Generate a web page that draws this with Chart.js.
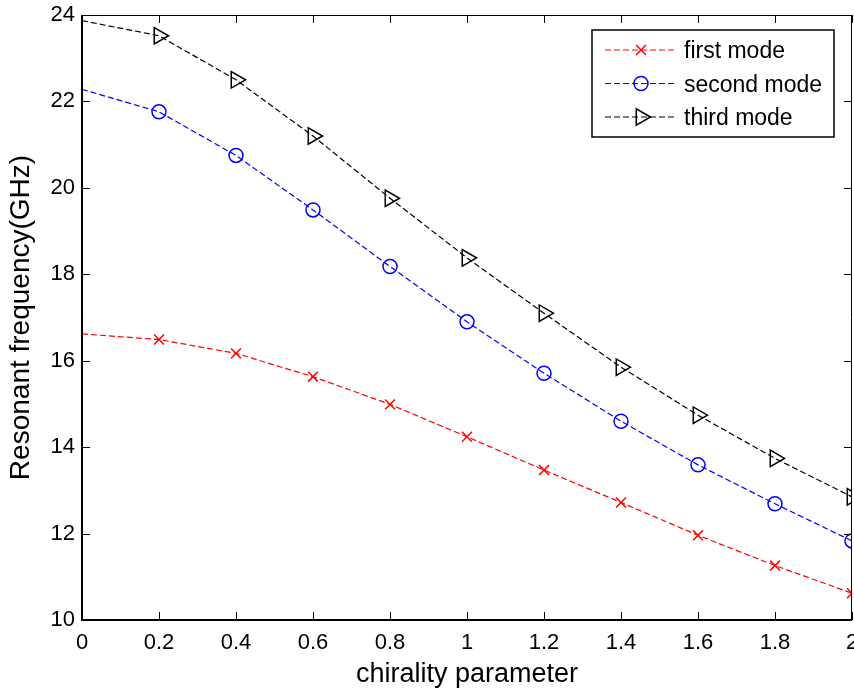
<!DOCTYPE html>
<html lang="en">
<head>
<meta charset="UTF-8">
<title>Resonant frequency vs chirality parameter</title>
<script src="https://cdn.jsdelivr.net/npm/chart.js@4.4.1/dist/chart.umd.min.js"></script>
<style>
  html, body { margin: 0; padding: 0; background: #fff; overflow: hidden; }
  #wrap { width: 854px; height: 693px; }
</style>
</head>
<body>
<div id="wrap"><canvas id="freqChart"></canvas></div>
<script>
// values
const chirality  = [0, 0.2, 0.4, 0.6, 0.8, 1.0, 1.2, 1.4, 1.6, 1.8, 2.0];
const firstMode  = [16.62, 16.49, 16.17, 15.63, 14.99, 14.24, 13.47, 12.72, 11.96, 11.26, 10.62];
const secondMode = [22.28, 21.76, 20.75, 19.49, 18.18, 16.90, 15.71, 14.60, 13.59, 12.69, 11.83];
const thirdMode  = [23.87, 23.52, 22.50, 21.20, 19.76, 18.38, 17.10, 15.85, 14.74, 13.74, 12.85];

const xTicks = [0, 0.2, 0.4, 0.6, 0.8, 1, 1.2, 1.4, 1.6, 1.8, 2];
const yTicks = [10, 12, 14, 16, 18, 20, 22, 24];

const FONT = '"Liberation Sans", Arial, Helvetica, sans-serif';

function toPoints(ys) {
    return chirality.map((x, i) => ({ x: x, y: ys[i] }));
}

function series(label, ys, color, marker, radius) {
    return {
        label: label,
        data: toPoints(ys),
        borderColor: color,
        backgroundColor: 'rgba(0,0,0,0)',
        borderWidth: 1.2,
        borderDash: [6, 3],
        tension: 0,
        clip: 0,
        marker: marker,
        markerRadius: radius,
        pointStyle: marker === 'x' ? 'crossRot' : marker,
        pointRotation: marker === 'triangle' ? 90 : 0,
        // no marker drawn at chirality = 0
        pointRadius: ctx => ctx.dataIndex === 0 ? 0 : radius,
        pointHoverRadius: ctx => ctx.dataIndex === 0 ? 0 : radius,
        pointBorderColor: color,
        pointBackgroundColor: 'rgba(0,0,0,0)',
        pointBorderWidth: 1.5
    };
}

// small marker drawer for the legend
function drawMarker(ctx, marker, r, x, y) {
    ctx.beginPath();
    if (marker === 'x') {
        const d = r * Math.SQRT1_2;
        ctx.moveTo(x - d, y - d); ctx.lineTo(x + d, y + d);
        ctx.moveTo(x - d, y + d); ctx.lineTo(x + d, y - d);
    } else if (marker === 'circle') {
        ctx.arc(x, y, r, 0, Math.PI * 2);
    } else {
        // triangle pointing right
        ctx.moveTo(x + r, y);
        ctx.lineTo(x - r / 2, y - r * Math.sqrt(3) / 2);
        ctx.lineTo(x - r / 2, y + r * Math.sqrt(3) / 2);
        ctx.closePath();
    }
    ctx.stroke();
}

// MATLAB style box with inward ticks on all four sides
const axesBox = {
    id: 'axesBox',
    afterDatasetsDraw(chart) {
        const { ctx, chartArea: a, scales } = chart;
        ctx.save();
        ctx.strokeStyle = '#000';
        ctx.setLineDash([]);
        ctx.lineWidth = 1;
        xTicks.forEach(v => {
            const px = Math.round(scales.x.getPixelForValue(v)) + 0.5;
            ctx.beginPath();
            ctx.moveTo(px, a.bottom); ctx.lineTo(px, a.bottom - 8);
            ctx.moveTo(px, a.top); ctx.lineTo(px, a.top + 8);
            ctx.stroke();
        });
        yTicks.forEach(v => {
            const py = Math.round(scales.y.getPixelForValue(v)) + 0.5;
            ctx.beginPath();
            ctx.moveTo(a.left, py); ctx.lineTo(a.left + 8, py);
            ctx.moveTo(a.right, py); ctx.lineTo(a.right - 8, py);
            ctx.stroke();
        });
        // top and right edges
        ctx.beginPath();
        ctx.moveTo(a.left, a.top + 0.5); ctx.lineTo(a.right, a.top + 0.5);
        ctx.moveTo(a.right - 0.5, a.top); ctx.lineTo(a.right - 0.5, a.bottom);
        ctx.stroke();
        // left and bottom edges, a bit heavier
        ctx.lineWidth = 2;
        ctx.beginPath();
        ctx.moveTo(a.left, a.top); ctx.lineTo(a.left, a.bottom);
        ctx.lineTo(a.right, a.bottom);
        ctx.stroke();
        ctx.restore();
    }
};

// legend box in the top-right corner
const boxLegend = {
    id: 'boxLegend',
    afterDraw(chart) {
        const ctx = chart.ctx;
        const L = 592, T = 30, W = 242, H = 107;
        ctx.save();
        ctx.fillStyle = '#fff';
        ctx.fillRect(L, T, W, H);
        ctx.strokeStyle = '#000';
        ctx.lineWidth = 1.5;
        ctx.strokeRect(L, T, W, H);
        chart.data.datasets.forEach((ds, i) => {
            const y = 50 + i * 33.5;
            ctx.strokeStyle = ds.borderColor;
            ctx.lineWidth = ds.borderWidth;
            ctx.setLineDash(ds.borderDash);
            ctx.beginPath();
            ctx.moveTo(605, y); ctx.lineTo(677, y);
            ctx.stroke();
            ctx.setLineDash([]);
            ctx.lineWidth = ds.pointBorderWidth;
            drawMarker(ctx, ds.marker, ds.markerRadius, 641, y);
            ctx.fillStyle = '#000';
            ctx.font = '23px ' + FONT;
            ctx.textBaseline = 'middle';
            ctx.textAlign = 'left';
            ctx.fillText(ds.label, 684, y + 2);
        });
        ctx.restore();
    }
};

const chartCtx = document.getElementById('freqChart').getContext('2d');
const freqChart = new Chart(chartCtx, {
    type: 'line',
    data: {
        datasets: [
            series('first mode', firstMode, '#ff0000', 'x', 7),
            series('second mode', secondMode, '#0000ff', 'circle', 7),
            series('third mode', thirdMode, '#000000', 'triangle', 9.5)
        ]
    },
    options: {
        responsive: true,
        maintainAspectRatio: false,
        animation: false,
        events: [],
        layout: { autoPadding: false, padding: { top: 15, right: 2, left: 0, bottom: 0 } },
        plugins: {
            legend: { display: false },
            tooltip: { enabled: false }
        },
        scales: {
            x: {
                type: 'linear',
                min: 0,
                max: 2,
                afterBuildTicks: s => { s.ticks = xTicks.map(v => ({ value: v })); },
                afterFit: s => { s.height = 73; s.paddingLeft = 0; s.paddingRight = 0; },
                grid: { display: false, drawTicks: false },
                border: { display: false },
                ticks: {
                    color: '#000',
                    font: { family: FONT, size: 22 },
                    padding: 10,
                    maxRotation: 0,
                    autoSkip: false,
                    callback: v => String(v)
                },
                title: {
                    display: true,
                    text: 'chirality parameter',
                    color: '#000',
                    font: { family: FONT, size: 27 },
                    padding: { top: 0, bottom: 2 }
                }
            },
            y: {
                type: 'linear',
                min: 10,
                max: 24,
                afterBuildTicks: s => { s.ticks = yTicks.map(v => ({ value: v })); },
                afterFit: s => { s.width = 82; s.paddingTop = 0; s.paddingBottom = 0; },
                grid: { display: false, drawTicks: false },
                border: { display: false },
                ticks: {
                    color: '#000',
                    font: { family: FONT, size: 22 },
                    padding: 7,
                    autoSkip: false,
                    callback: v => String(v)
                },
                title: {
                    display: true,
                    text: 'Resonant frequency(GHz)',
                    color: '#000',
                    font: { family: FONT, size: 28 },
                    padding: { top: 4, bottom: 0 }
                }
            }
        }
    },
    plugins: [axesBox, boxLegend]
});
</script>
</body>
</html>
